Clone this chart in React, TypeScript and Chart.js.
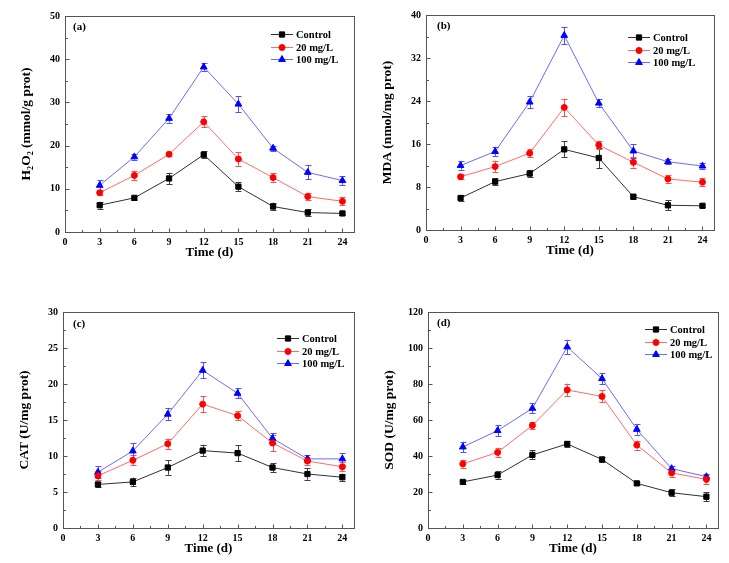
import React, { useEffect, useRef } from 'react';
import { Chart, registerables } from 'chart.js';
import { drawPoint } from 'chart.js/helpers';

Chart.register(...registerables);

// ---------- data ----------
const days = [3, 6, 9, 12, 15, 18, 21, 24];
const xTickValues = [0, 3, 6, 9, 12, 15, 18, 21, 24];
const seriesNames = ['Control', '20 mg/L', '100 mg/L'];

// (a) H2O2
const h2o2Control = [6.2, 7.9, 12.4, 17.9, 10.5, 5.9, 4.5, 4.3];
const h2o2ControlErr = [0.8, 0.5, 1.3, 0.8, 1.1, 0.9, 0.8, 0.4];
const h2o2Low = [9.1, 13.1, 18.0, 25.5, 16.9, 12.6, 8.2, 7.1];
const h2o2LowErr = [0.6, 1.1, 0.4, 1.3, 1.6, 1.0, 0.9, 0.9];
const h2o2High = [10.8, 17.4, 26.3, 38.2, 29.6, 19.4, 13.8, 11.9];
const h2o2HighErr = [1.2, 0.7, 1.0, 1.0, 1.8, 0.6, 1.6, 1.0];

// (b) MDA
const mdaControl = [5.95, 9.0, 10.5, 15.0, 13.4, 6.2, 4.6, 4.5];
const mdaControlErr = [0.5, 0.6, 0.7, 1.5, 1.9, 0.4, 0.9, 0.3];
const mdaLow = [9.9, 11.8, 14.3, 22.8, 15.8, 12.6, 9.5, 8.9];
const mdaLowErr = [0.5, 1.1, 0.7, 1.6, 0.8, 1.0, 0.7, 0.7];
const mdaHigh = [12.0, 14.6, 23.8, 36.2, 23.6, 14.7, 12.7, 11.9];
const mdaHighErr = [0.8, 0.9, 1.1, 1.6, 0.8, 1.3, 0.5, 0.5];

// (c) CAT
const catControl = [6.05, 6.4, 8.4, 10.75, 10.4, 8.4, 7.5, 7.05];
const catControlErr = [0.3, 0.6, 1.0, 0.8, 1.1, 0.6, 0.8, 0.5];
const catLow = [7.25, 9.4, 11.7, 17.2, 15.6, 11.8, 9.3, 8.5];
const catLowErr = [0.6, 0.7, 0.7, 1.1, 0.6, 1.1, 0.5, 0.6];
const catHigh = [7.75, 10.7, 15.8, 21.9, 18.7, 12.45, 9.6, 9.6];
const catHighErr = [0.8, 1.1, 0.8, 1.1, 0.7, 0.7, 0.5, 0.8];

// (d) SOD
const sodControl = [25.6, 29.4, 40.6, 46.7, 38.1, 24.8, 19.6, 17.4];
const sodControlErr = [1.0, 2.0, 2.5, 1.5, 1.5, 1.0, 2.0, 2.5];
const sodLow = [35.6, 42.0, 57.0, 76.7, 73.1, 46.1, 30.6, 27.0];
const sodLowErr = [2.0, 2.5, 2.0, 3.5, 3.3, 2.5, 2.0, 2.5];
const sodHigh = [45.0, 54.1, 66.5, 100.6, 83.0, 54.8, 33.0, 28.5];
const sodHighErr = [3.0, 3.0, 2.8, 4.0, 3.0, 3.0, 1.5, 1.5];

// ---------- styles ----------
const FONT = "'Liberation Serif', 'Times New Roman', serif";
const seriesStyles = [
  { line: '#303030', fill: '#000000', err: '#404040', style: 'rect', radius: 3.7 },
  { line: '#ff6a6a', fill: '#ff0000', err: '#ff5050', style: 'circle', radius: 3.0 },
  { line: '#6a6aff', fill: '#0000ff', err: '#5050ff', style: 'triangle', radius: 3.9 },
];

const panels = [
  {
    key: 'a', label: '(a)', yTitle: 'H\u2082O\u2082 (mmol/g prot)', yMax: 50, yStep: 10,
    series: [[h2o2Control, h2o2ControlErr], [h2o2Low, h2o2LowErr], [h2o2High, h2o2HighErr]],
    box: { left: 0, top: 0, width: 364, height: 281 },
    area: { l: 65, t: 16, r: 354, b: 232 },
    legend: { dx: 83, dy: 18 }, labelPos: { dx: 8, dy: 11 },
  },
  {
    key: 'b', label: '(b)', yTitle: 'MDA (nmol/mg prot)', yMax: 40, yStep: 8,
    series: [[mdaControl, mdaControlErr], [mdaLow, mdaLowErr], [mdaHigh, mdaHighErr]],
    box: { left: 364, top: 0, width: 365, height: 281 },
    area: { l: 62, t: 15, r: 350, b: 230 },
    legend: { dx: 86, dy: 22 }, labelPos: { dx: 11, dy: 11 },
  },
  {
    key: 'c', label: '(c)', yTitle: 'CAT (U/mg prot)', yMax: 30, yStep: 5,
    series: [[catControl, catControlErr], [catLow, catLowErr], [catHigh, catHighErr]],
    box: { left: 0, top: 281, width: 364, height: 282 },
    area: { l: 63, t: 31, r: 354, b: 247 },
    legend: { dx: 77, dy: 26 }, labelPos: { dx: 10, dy: 12 },
  },
  {
    key: 'd', label: '(d)', yTitle: 'SOD (U/mg prot)', yMax: 120, yStep: 20,
    series: [[sodControl, sodControlErr], [sodLow, sodLowErr], [sodHigh, sodHighErr]],
    box: { left: 364, top: 281, width: 365, height: 282 },
    area: { l: 64, t: 31, r: 354, b: 247 },
    legend: { dx: 73, dy: 17 }, labelPos: { dx: 9, dy: 11 },
  },
];

const Y_AXIS_W = 47;
const X_AXIS_H = 28;

const errorBarPlugin = {
  id: 'errorBars',
  beforeDatasetsDraw(chart: any) {
    const { ctx, scales } = chart;
    const x = scales.x, y = scales.y;
    chart.data.datasets.forEach((ds: any) => {
      ctx.save();
      ctx.strokeStyle = ds.errColor;
      ctx.lineWidth = 1;
      ds.data.forEach((p: any, j: number) => {
        const e = ds.errors[j];
        const px = Math.round(x.getPixelForValue(p.x)) + 0.5;
        const t = y.getPixelForValue(p.y + e);
        const b = y.getPixelForValue(p.y - e);
        ctx.beginPath();
        ctx.moveTo(px, t); ctx.lineTo(px, b);
        ctx.moveTo(px - 3, Math.round(t) + 0.5); ctx.lineTo(px + 3, Math.round(t) + 0.5);
        ctx.moveTo(px - 3, Math.round(b) + 0.5); ctx.lineTo(px + 3, Math.round(b) + 0.5);
        ctx.stroke();
      });
      ctx.restore();
    });
  },
};

const framePlugin = {
  id: 'frameTicks',
  afterDraw(chart: any) {
    const { ctx, chartArea: a, scales } = chart;
    const x = scales.x, y = scales.y;
    const opts = chart.options.plugins.frameTicks;
    ctx.save();
    ctx.strokeStyle = '#555555';
    ctx.lineWidth = 1;
    ctx.strokeRect(Math.round(a.left) + 0.5, Math.round(a.top) + 0.5, Math.round(a.right - a.left), Math.round(a.bottom - a.top));
    ctx.beginPath();
    const yb = Math.round(a.bottom) + 0.5;
    const xl = Math.round(a.left) + 0.5;
    xTickValues.forEach((v) => {
      const px = Math.round(x.getPixelForValue(v)) + 0.5;
      ctx.moveTo(px, yb); ctx.lineTo(px, yb - 4);
      const m = v + 1.5;
      const mx = Math.round(x.getPixelForValue(m)) + 0.5;
      if (m < x.max) { ctx.moveTo(mx, yb); ctx.lineTo(mx, yb - 2.5); }
    });
    for (let v = 0; v <= opts.yMax + 1e-9; v += opts.yStep) {
      const py = Math.round(y.getPixelForValue(v)) + 0.5;
      ctx.moveTo(xl, py); ctx.lineTo(xl + 4, py);
      const m = v + opts.yStep / 2;
      if (m < opts.yMax) {
        const my = Math.round(y.getPixelForValue(m)) + 0.5;
        ctx.moveTo(xl, my); ctx.lineTo(xl + 2.5, my);
      }
    }
    ctx.stroke();

    // panel label
    ctx.fillStyle = '#000';
    ctx.font = `bold 11px ${FONT}`;
    ctx.textBaseline = 'middle';
    ctx.textAlign = 'left';
    ctx.fillText(opts.label, a.left + opts.labelPos.dx, a.top + opts.labelPos.dy);

    // legend
    const lx = a.right - opts.legend.dx;
    chart.data.datasets.forEach((ds: any, i: number) => {
      const ly = Math.round(a.top + opts.legend.dy + i * 12.5) + 0.5;
      ctx.strokeStyle = ds.borderColor;
      ctx.lineWidth = 1;
      ctx.beginPath();
      ctx.moveTo(lx, ly); ctx.lineTo(lx + 22, ly);
      ctx.stroke();
      ctx.fillStyle = ds.pointBackgroundColor;
      ctx.strokeStyle = ds.pointBorderColor;
      drawPoint(ctx, { pointStyle: ds.pointStyle, radius: ds.pointRadius, rotation: 0, borderWidth: 1 }, lx + 11, ly);
      ctx.fillStyle = '#000';
      ctx.font = `bold 10.5px ${FONT}`;
      ctx.textBaseline = 'middle';
      ctx.fillText(ds.label, lx + 25, ly + 0.5);
    });
    ctx.restore();
  },
};

function Panel({ p }: { p: any }) {
  const ref = useRef<HTMLCanvasElement>(null);
  useEffect(() => {
    const canvas = ref.current!;
    const datasets = p.series.map((s: any, i: number) => {
      const st = seriesStyles[i];
      return {
        label: seriesNames[i],
        data: days.map((d, j) => ({ x: d, y: s[0][j] })),
        errors: s[1],
        errColor: st.err,
        borderColor: st.line,
        borderWidth: 1,
        pointStyle: st.style,
        pointRadius: st.radius,
        pointBackgroundColor: st.fill,
        pointBorderColor: st.fill,
        pointBorderWidth: 1,
        tension: 0,
        fill: false,
      };
    });
    const chart = new Chart(canvas, {
      type: 'line',
      data: { datasets },
      plugins: [errorBarPlugin, framePlugin],
      options: {
        responsive: false,
        animation: false,
        layout: {
          padding: {
            left: p.area.l - Y_AXIS_W,
            top: p.area.t,
            right: p.box.width - p.area.r,
            bottom: p.box.height - p.area.b - X_AXIS_H,
          },
        },
        plugins: {
          legend: { display: false },
          tooltip: { enabled: false },
          frameTicks: { label: p.label, labelPos: p.labelPos, legend: p.legend, yMax: p.yMax, yStep: p.yStep },
        } as any,
        scales: {
          x: {
            type: 'linear',
            min: 0,
            max: 25,
            grid: { display: false, drawTicks: false },
            border: { display: false },
            afterBuildTicks: (s: any) => { s.ticks = xTickValues.map((v) => ({ value: v })); },
            afterFit: (s: any) => { s.height = X_AXIS_H; },
            ticks: {
              color: '#000',
              padding: 4,
              maxRotation: 0,
              autoSkip: false,
              font: { family: FONT, size: 10, weight: 'bold' },
            },
            title: {
              display: true,
              text: 'Time (d)',
              color: '#000',
              padding: 0,
              font: { family: FONT, size: 13, weight: 'bold' },
            },
          },
          y: {
            type: 'linear',
            min: 0,
            max: p.yMax,
            grid: { display: false, drawTicks: false },
            border: { display: false },
            afterFit: (s: any) => { s.width = Y_AXIS_W; },
            ticks: {
              stepSize: p.yStep,
              color: '#000',
              padding: 5,
              font: { family: FONT, size: 10, weight: 'bold' },
            },
            title: {
              display: true,
              text: p.yTitle,
              color: '#000',
              padding: 0,
              font: { family: FONT, size: 13.5, weight: 'bold' },
            },
          },
        },
      } as any,
    });
    return () => chart.destroy();
  }, [p]);
  return (
    <canvas
      ref={ref}
      width={p.box.width}
      height={p.box.height}
      style={{ position: 'absolute', left: p.box.left, top: p.box.top, width: p.box.width, height: p.box.height }}
    />
  );
}

export default function App() {
  return (
    <div style={{ position: 'absolute', left: 0, top: 0, width: 729, height: 563, background: '#fff' }}>
      {panels.map((p) => (
        <Panel key={p.key} p={p} />
      ))}
    </div>
  );
}
